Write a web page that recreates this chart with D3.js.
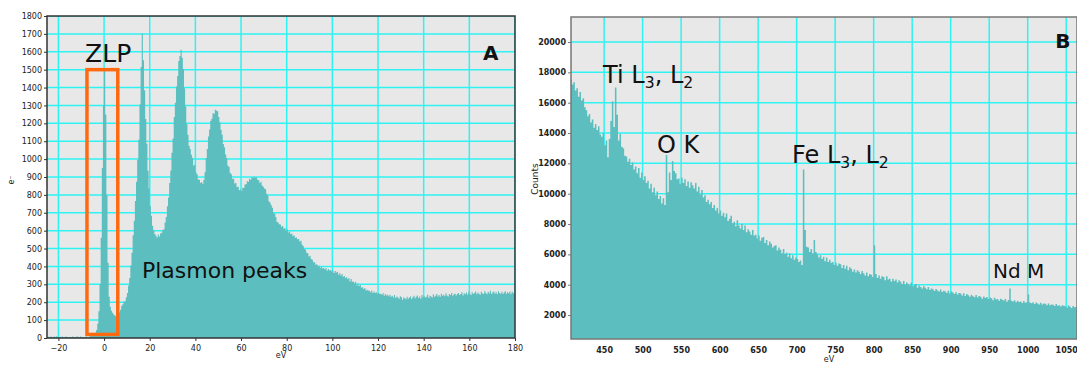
<!DOCTYPE html>
<html>
<head>
<meta charset="utf-8">
<script src="https://cdn.jsdelivr.net/npm/d3@7"></script>
<style>
  body { margin: 0; background: #fff; }
  .tick text { font-family: 'DejaVu Sans', sans-serif; font-size: 8px; fill: #222; }
  .note { font-family: 'Comic Sans MS', 'DejaVu Sans', sans-serif; fill: #111; }
</style>
</head>
<body>
<script>
// ---- panel A : low loss spectrum, bins of 0.5 eV starting at -25 eV ----
const lowLossStart = -25;
const lowLossStep = 0.5;
const lowLossCounts = [
  4,7,3,9,5,2,8,4,10,3,5,7,2,9,4,3,8,5,2,6,
  5,3,9,4,6,2,10,5,3,8,4,6,3,5,9,4,6,10,13,15,
  18,22,30,45,80,150,300,560,950,1300,1500,1250,800,420,230,175,152,141,132,126,
  122,115,124,142,158,180,188,203,206,228,252,294,336,405,476,574,655,766,874,996,
  1108,1305,1515,1702,1552,1385,1224,1086,935,836,738,684,628,604,582,572,562,578,568,584,
  588,604,608,645,676,736,786,866,936,1036,1115,1236,1315,1406,1465,1548,1576,1612,1566,1504,
  1396,1296,1196,1136,1074,1056,1024,1008,964,968,926,915,886,884,866,872,862,884,926,1006,
  1056,1126,1166,1215,1226,1256,1254,1276,1272,1268,1236,1206,1164,1136,1084,1066,1026,1006,964,956,
  924,916,890,890,864,866,844,846,826,830,822,840,838,858,860,876,874,890,884,900,
  894,902,896,898,884,882,866,874,852,846,836,832,806,796,764,756,742,728,702,694,
  676,650,646,636,634,622,626,612,614,600,606,590,596,582,584,570,574,560,562,552,
  554,540,544,522,514,498,494,476,474,456,460,442,438,424,424,410,412,400,404,392,
  398,388,392,384,390,376,386,378,380,372,378,364,374,366,370,354,364,350,358,342,
  346,336,340,328,336,316,330,314,316,306,314,294,304,290,296,282,284,274,280,266,
  270,264,266,256,266,252,260,252,256,248,252,246,248,242,250,236,246,238,242,234,
  242,230,236,228,240,224,232,226,220,234,228,214,226,222,216,230,220,226,232,218,
  228,236,222,230,238,224,232,220,240,228,234,226,230,242,224,236,232,226,244,230,
  236,246,232,240,230,248,236,242,234,250,238,232,246,240,252,236,244,248,238,246,
  252,240,246,256,238,250,244,254,242,258,248,240,256,246,252,260,244,254,248,242,
  258,250,246,262,252,244,258,250,264,246,254,260,248,256,244,262,252,248,258,246,
  254,262,248,256,250,260,246,258,252,244,256
];
const lowLossXTicks = [-20, 0, 20, 40, 60, 80, 100, 120, 140, 160, 180];
const lowLossYTicks = [0, 100, 200, 300, 400, 500, 600, 700, 800, 900, 1000,
  1100, 1200, 1300, 1400, 1500, 1600, 1700, 1800];
const zlpBox = [-7.5, 6, 20, 1500]; // eV from, eV to, counts from, counts to

// ---- panel B : core loss spectrum, bins of 2 eV starting at 406 eV ----
const coreLossStart = 406;
const coreLossStep = 2;
const coreLossCounts = [
  17500,17200,17350,16800,16950,16400,16700,16150,16300,15700,
  15500,15100,15250,14700,14900,14350,14600,14200,14450,13900,
  13750,14000,13200,13500,12400,13600,14800,16100,14400,17000,
  15200,13500,13950,13100,13000,12500,12450,12100,12300,11900,
  12050,11600,11800,11350,11700,11050,11400,10900,11150,10700,
  10850,10350,10650,10100,10400,9900,10150,9650,9850,9350,
  9700,9250,12550,10100,11400,10900,12150,11500,11350,10950,
  11000,10650,11050,10700,10950,10500,10800,10400,10750,10550,
  10350,10700,10150,10450,9950,10250,9750,9900,9450,9600,
  9300,9450,9050,9250,8900,9050,8700,8900,8550,8750,
  8450,8700,8200,8350,8550,8050,8150,7850,8250,7900,
  7700,8000,7600,7900,7450,7650,7500,7300,7600,7250,
  7300,7050,7250,6900,7100,7150,6750,6950,6600,6850,
  6700,6450,6550,6600,6250,6450,6300,6050,6350,6000,
  6100,5850,6050,5750,5950,5650,5800,5700,5500,5600,
  5300,11600,7600,6500,6450,6150,6350,6050,6950,6150,
  6000,5800,5950,5700,5850,5550,5800,5500,5650,5450,
  5500,5300,5450,5250,5400,5350,5100,5300,5050,5250,
  4950,5150,5050,4850,5000,4800,4950,4850,4700,4900,
  4750,4600,4800,4550,4700,4650,4500,6600,4700,4450,
  4600,4400,4550,4500,4300,4550,4350,4400,4200,4400,
  4250,4350,4150,4300,4200,4050,4250,4000,4150,4050,
  3950,4150,3900,4000,4050,3800,3950,3850,3750,3900,
  3800,3700,3850,3650,3750,3700,3580,3720,3620,3560,
  3680,3520,3600,3560,3450,3600,3420,3550,3480,3380,
  3500,3360,3460,3420,3290,3440,3260,3380,3300,3200,
  3340,3240,3180,3320,3150,3260,3200,3080,3230,3120,
  3190,3050,3160,3100,2980,3140,3020,3060,2950,3070,
  3010,2960,3050,2880,2990,3750,2950,2900,2980,2840,
  2950,2860,2900,2790,2930,2810,2850,3350,2830,2780,
  2850,2720,2830,2760,2700,2810,2690,2760,2740,2650,
  2760,2640,2700,2680,2590,2720,2610,2650,2560,2640,
  2620,2580,2500,2640,2540,2470,2600,2510,2530,2460
];
const coreLossXTicks = [450, 500, 550, 600, 650, 700, 750, 800, 850, 900, 950, 1000, 1050];
const coreLossYTicks = [2000, 4000, 6000, 8000, 10000, 12000, 14000, 16000, 18000, 20000];

const W = 1077, H = 365;
const fillColor = '#5cbebe';
const gridColor = '#2ff3f3';

const svg = d3.select('body').append('svg')
    .attr('width', W)
    .attr('height', H);

/**
 * Draws one spectrum panel (background, grid, filled histogram, axes).
 */
const drawPanel = options => {
  const x = options.x, y = options.y;
  const [x0, x1] = x.range();
  const [y0, y1] = y.range();
  const g = svg.append('g').attr('id', options.id);

  g.append('clipPath').attr('id', `clip-${options.id}`)
    .append('rect')
      .attr('x', x0).attr('y', y1)
      .attr('width', x1 - x0).attr('height', y0 - y1);

  g.append('rect')
      .attr('x', x0).attr('y', y1)
      .attr('width', x1 - x0).attr('height', y0 - y1)
      .attr('fill', '#e8e8e8');

  const grid = g.append('g').attr('clip-path', `url(#clip-${options.id})`);
  grid.selectAll('.vgrid')
    .data(options.xTicks)
    .join('line')
      .attr('x1', d => x(d)).attr('x2', d => x(d))
      .attr('y1', y1).attr('y2', y0)
      .attr('stroke', gridColor).attr('stroke-width', 1.5);
  grid.selectAll('.hgrid')
    .data(options.yTicks)
    .join('line')
      .attr('x1', x0).attr('x2', x1)
      .attr('y1', d => y(d)).attr('y2', d => y(d))
      .attr('stroke', gridColor).attr('stroke-width', 1.5);

  const area = d3.area()
      .x((d, i) => x(options.start + i * options.step))
      .y0(y0)
      .y1(d => y(d))
      .curve(d3.curveStepAfter);

  g.append('path')
      .datum(options.counts)
      .attr('clip-path', `url(#clip-${options.id})`)
      .attr('fill', fillColor)
      .attr('d', area);

  const xAxis = g.append('g')
      .attr('transform', `translate(0,${y0})`)
      .call(d3.axisBottom(x).tickValues(options.xTicks).tickFormat(d3.format('d'))
        .tickSize(options.tickSize).tickPadding(options.xPadding));
  const yAxis = g.append('g')
      .attr('transform', `translate(${x0},0)`)
      .call(d3.axisLeft(y).tickValues(options.yTicks).tickFormat(d3.format('d'))
        .tickSize(3).tickPadding(2));

  [xAxis, yAxis].forEach(a => {
    a.select('.domain').remove();
    a.selectAll('.tick line').attr('stroke', options.axisColor);
  });

  // frame
  g.append('rect')
      .attr('x', x0).attr('y', y1)
      .attr('width', x1 - x0).attr('height', y0 - y1)
      .attr('fill', 'none')
      .attr('stroke', options.axisColor)
      .attr('stroke-width', 1.5);

  return g;
};

// ----- panel A -----
const xA = d3.scaleLinear().domain([-25, 180]).range([47, 515]);
const yA = d3.scaleLinear().domain([0, 1800]).range([338, 16]);

const gA = drawPanel({
  id: 'panelA', x: xA, y: yA,
  start: lowLossStart, step: lowLossStep, counts: lowLossCounts,
  xTicks: lowLossXTicks, yTicks: lowLossYTicks,
  axisColor: '#333', tickSize: 3, xPadding: 4
});

gA.append('rect')
    .attr('x', xA(zlpBox[0]))
    .attr('y', yA(zlpBox[3]))
    .attr('width', xA(zlpBox[1]) - xA(zlpBox[0]))
    .attr('height', yA(zlpBox[2]) - yA(zlpBox[3]))
    .attr('fill', 'none')
    .attr('stroke', '#ff6a10')
    .attr('stroke-width', 3.5);

gA.append('text')
    .attr('x', (xA.range()[0] + xA.range()[1]) / 2)
    .attr('y', 358)
    .attr('text-anchor', 'middle')
    .attr('font-family', 'DejaVu Sans, sans-serif')
    .attr('font-size', 8)
    .attr('fill', '#222')
    .text('eV');

gA.append('text')
    .attr('transform', 'translate(14,180) rotate(-90)')
    .attr('text-anchor', 'middle')
    .attr('font-family', 'DejaVu Sans, sans-serif')
    .attr('font-size', 8)
    .attr('fill', '#222')
    .text('e⁻');

gA.append('text').attr('class', 'note')
    .attr('x', xA(-8.3)).attr('y', yA(1543))
    .attr('font-size', 25)
    .text('ZLP');

gA.append('text').attr('class', 'note')
    .attr('x', xA(16.6)).attr('y', yA(335))
    .attr('font-size', 22)
    .text('Plasmon peaks');

gA.append('text')
    .attr('x', xA(166)).attr('y', yA(1554))
    .attr('font-family', 'DejaVu Sans, sans-serif')
    .attr('font-weight', 'bold')
    .attr('font-size', 20)
    .attr('fill', '#111')
    .text('A');

// ----- panel B -----
const xB = d3.scaleLinear().domain([407, 1064]).range([571, 1077]);
const yB = d3.scaleLinear().domain([420, 21650]).range([339, 17]);

const gB = drawPanel({
  id: 'panelB', x: xB, y: yB,
  start: coreLossStart, step: coreLossStep, counts: coreLossCounts,
  xTicks: coreLossXTicks, yTicks: coreLossYTicks,
  axisColor: '#777', tickSize: 0, xPadding: 8
});
gB.selectAll('.tick text').attr('font-weight', 'bold').attr('fill', '#333');
gB.selectAll('.tick text').filter(d => d === 1050).attr('font-size', 7.5);

gB.append('text')
    .attr('x', 829)
    .attr('y', 362)
    .attr('text-anchor', 'middle')
    .attr('font-family', 'DejaVu Sans, sans-serif')
    .attr('font-size', 8)
    .attr('fill', '#222')
    .text('eV');

gB.append('text')
    .attr('transform', 'translate(538,179) rotate(-90)')
    .attr('text-anchor', 'middle')
    .attr('font-family', 'DejaVu Sans, sans-serif')
    .attr('font-size', 9)
    .attr('fill', '#222')
    .text('Counts');

// label with L3, L2 subscripts
const edgeLabel = (g, x, y, head, size) => {
  const t = g.append('text').attr('class', 'note')
      .attr('x', x).attr('y', y)
      .attr('font-size', size);
  t.append('tspan').text(`${head} L`);
  t.append('tspan').attr('dy', 5).attr('font-size', size * 0.65).text('3');
  t.append('tspan').attr('dy', -5).text(', L');
  t.append('tspan').attr('dy', 5).attr('font-size', size * 0.65).text('2');
};

edgeLabel(gB, xB(448.7), yB(17317), 'Ti', 24);
edgeLabel(gB, xB(694), yB(12000), 'Fe', 24);

gB.append('text').attr('class', 'note')
    .attr('x', xB(518.8)).attr('y', yB(12700))
    .attr('font-size', 24)
    .text('O K');

gB.append('text').attr('class', 'note')
    .attr('x', xB(955)).attr('y', yB(4460))
    .attr('font-size', 20)
    .text('Nd M');

gB.append('text')
    .attr('x', xB(1035.7)).attr('y', yB(19604))
    .attr('font-family', 'DejaVu Sans, sans-serif')
    .attr('font-weight', 'bold')
    .attr('font-size', 20)
    .attr('fill', '#111')
    .text('B');
</script>
</body>
</html>
